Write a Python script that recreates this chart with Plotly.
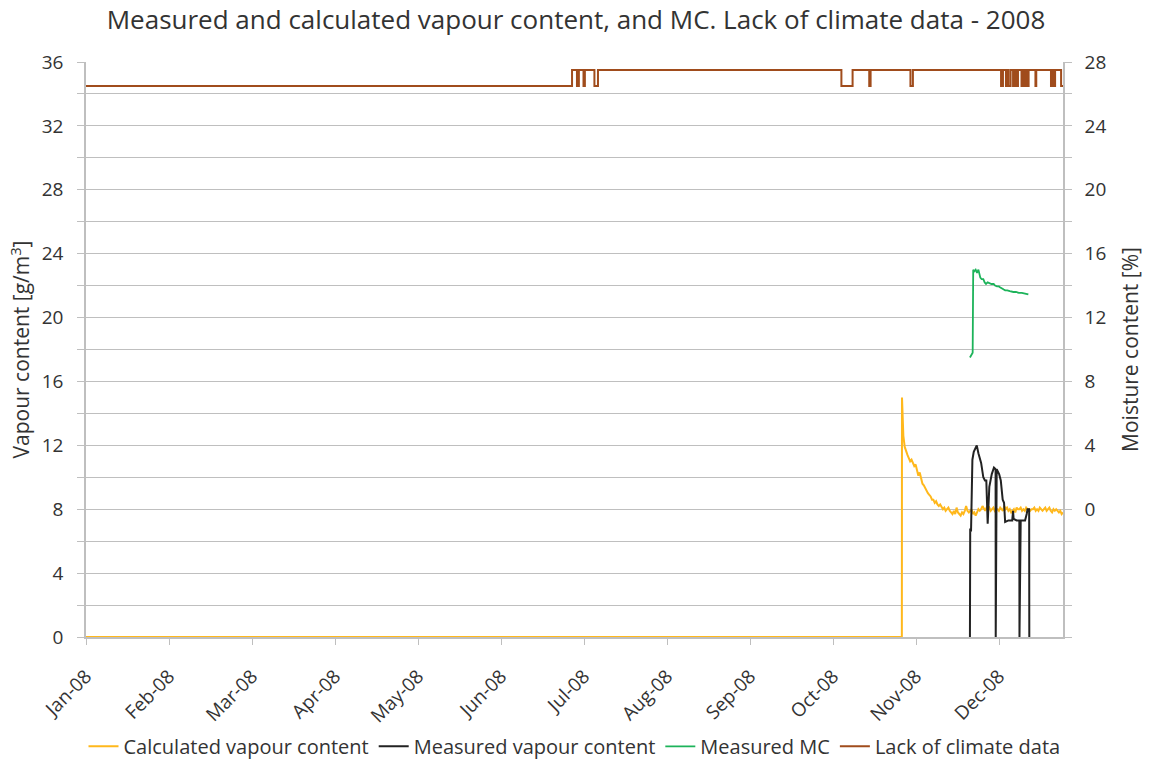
import numpy as np
import plotly.graph_objects as go

# ---- axis labels -------------------------------------------------------
month_labels = ["Jan-08", "Feb-08", "Mar-08", "Apr-08", "May-08", "Jun-08",
                "Jul-08", "Aug-08", "Sep-08", "Oct-08", "Nov-08", "Dec-08"]
month_pos = [i * 365 / 12 for i in range(12)]          # day-of-year of each label
x_end = 358.0

# ---- calculated vapour content [g/m3], half-day steps from day 299 --------
calc_start_day = 299.0
calc_step = 0.5
calc_values = [
    15.0, 12.6, 11.9, 11.6, 11.4, 11.2, 11.0, 11.1, 10.9, 10.7,
    10.8, 10.4, 10.1, 10.3, 9.9, 9.6, 9.5, 9.3, 9.1, 9.0,
    8.9, 8.8, 8.6, 8.6, 8.4, 8.5, 8.3, 8.2, 8.3, 8.1,
    8.0, 8.1, 7.9, 8.0, 8.1, 7.9, 7.8, 7.7, 7.9, 7.7,
    8.1, 7.8, 7.7, 7.6, 7.8, 7.7, 7.9, 8.2, 7.9, 7.8,
    7.9, 8.0, 7.7, 7.8, 7.6, 7.8, 8.0, 7.9, 8.0, 8.2,
    8.0, 7.9, 8.1, 8.0, 8.1, 7.9, 8.0, 8.1, 7.9, 8.0,
    8.0, 7.9, 8.1, 8.0, 7.9, 8.2, 8.0, 8.1, 7.9, 8.0,
    7.8, 7.9, 8.0, 7.8, 8.1, 8.0, 8.0, 8.1, 7.9, 8.0,
    7.9, 8.1, 8.0, 8.0, 7.9, 8.0, 8.0, 8.1, 7.9, 8.0,
    7.9, 8.1, 8.0, 7.9, 8.0, 8.1, 7.9, 8.0, 8.1, 7.9,
    7.8, 8.0, 7.9, 8.0, 7.9, 7.8, 7.9, 7.7, 7.8,
]
calc_days = [0.0, calc_start_day - 0.05] + [calc_start_day + i * calc_step for i in range(len(calc_values))]
calc_series = [0.0, 0.0] + calc_values

# ---- measured vapour content [g/m3] --------------------------------------
meas_days = [323.9, 324.0, 324.3, 324.8, 325.3, 326.0, 326.4, 327.0, 327.6, 328.0,
             328.8, 329.4, 329.9, 330.4, 331.0, 331.9, 332.7, 333.3, 333.35, 333.7,
             334.6, 335.2, 335.9, 336.4, 336.8, 338.0, 339.4, 339.7, 339.9, 341.0,
             342.0, 342.05, 342.5, 344.1, 344.7, 345.0, 345.6, 345.65]
meas_values = [0.0, 6.8, 6.6, 11.1, 11.6, 11.9, 12.0, 11.5, 11.1, 10.9,
               10.0, 9.8, 9.8, 7.1, 9.4, 10.2, 10.6, 10.5, 0.0, 10.5,
               10.2, 9.8, 8.6, 8.4, 7.2, 7.3, 7.3, 7.9, 7.4, 7.3,
               7.3, 0.0, 7.3, 7.3, 7.7, 8.0, 8.0, 0.0]

# ---- measured moisture content [%] ---------------------------------------
mc_days = [323.9, 324.2, 324.9, 325.1, 325.5, 326.0, 326.5, 327.0, 327.3, 327.7,
           328.2, 328.8, 329.3, 329.8, 330.4, 331.0, 331.8, 332.6, 333.1, 333.8,
           334.5, 334.9, 335.6, 336.3, 336.8, 337.6, 338.5, 339.3, 339.8, 340.8,
           341.8, 342.9, 343.9, 344.6, 345.3]
mc_values = [9.5, 9.6, 9.8, 15.0, 14.9, 15.0, 14.8, 15.0, 14.8, 14.5,
             14.4, 14.4, 14.2, 14.1, 14.2, 14.15, 14.1, 14.1, 14.0, 13.95,
             13.95, 13.9, 13.8, 13.75, 13.7, 13.7, 13.65, 13.6, 13.6, 13.6,
             13.55, 13.55, 13.5, 13.5, 13.45]

# ---- lack of climate data flag (step series, drawn at 34.5 / 35.5) --------
lack_days = [0.0, 178.1, 179.9, 180.6, 182.3, 182.8, 186.3, 187.6, 276.8, 280.9,
             287.0, 287.5, 302.1, 303.0, 335.3, 336.0, 337.1, 337.5, 338.0, 338.8,
             339.7, 340.1, 340.4, 340.8, 341.2, 341.5, 342.8, 343.3, 343.7, 344.3,
             344.8, 345.4, 347.9, 348.2, 353.6, 354.0, 354.7, 355.1, 357.3, 358.0]
lack_values = [34.5, 35.5, 34.5, 35.5, 34.5, 35.5, 34.5, 35.5, 34.5, 35.5,
               34.5, 35.5, 34.5, 35.5, 34.5, 35.5, 34.5, 35.5, 34.5, 35.5,
               34.5, 35.5, 34.5, 35.5, 34.5, 35.5, 34.5, 35.5, 34.5, 35.5,
               34.5, 35.5, 34.5, 35.5, 34.5, 35.5, 34.5, 35.5, 34.5, 34.5]

FONT = "Open Sans"
TEXT = "#333333"
GRID = "#BFBFBF"

fig = go.Figure()
fig.add_trace(go.Scatter(x=calc_days, y=calc_series, mode="lines",
                         name="Calculated vapour content",
                         line=dict(color="#FFB81C", width=2)))
fig.add_trace(go.Scatter(x=meas_days, y=meas_values, mode="lines",
                         name="Measured vapour content",
                         line=dict(color="#222222", width=2)))
fig.add_trace(go.Scatter(x=mc_days, y=mc_values, mode="lines",
                         name="Measured MC", yaxis="y2",
                         line=dict(color="#1DB35A", width=1.8)))
fig.add_trace(go.Scatter(x=lack_days, y=lack_values, mode="lines",
                         name="Lack of climate data", line_shape="hv",
                         line=dict(color="#A04C1C", width=2)))

fig.update_layout(
    width=1152, height=760,
    margin=dict(l=86, r=89, t=62, b=123, autoexpand=False),
    paper_bgcolor="white", plot_bgcolor="white",
    font=dict(family=FONT, size=18, color=TEXT),
    title=dict(text="Measured and calculated vapour content, and MC. Lack of climate data - 2008",
               x=0.5, xanchor="center", y=0.974, yanchor="middle",
               font=dict(family=FONT, size=26, color=TEXT)),
    showlegend=True,
    legend=dict(orientation="h", x=0.5, xanchor="center",
                yref="container", y=0.018, yanchor="middle",
                bgcolor="rgba(0,0,0,0)",
                font=dict(family=FONT, size=20, color=TEXT),
                itemwidth=30, tracegroupgap=0),
    xaxis=dict(range=[0, x_end], tickmode="array", tickvals=month_pos, ticktext=month_labels,
               tickangle=-45, showgrid=False, zeroline=False, automargin=False,
               showline=True, linecolor=GRID, linewidth=1.5,
               ticks="outside", ticklen=6, tickcolor=GRID, ticklabelstandoff=13,
               tickfont=dict(family=FONT, size=19, color=TEXT)),
    yaxis=dict(range=[0, 36], tickmode="linear", tick0=0, dtick=4,
               showgrid=True, gridcolor=GRID, gridwidth=1.2, zeroline=False, automargin=False,
               showline=True, linecolor=GRID, linewidth=1.5,
               ticks="outside", ticklen=7, tickcolor=GRID, ticklabelstandoff=10,
               minor=dict(tickmode="linear", tick0=0, dtick=2, showgrid=True,
                          gridcolor=GRID, gridwidth=1.2,
                          ticks="outside", ticklen=7, tickcolor=GRID),
               tickfont=dict(family=FONT, size=19, color=TEXT),
               title=dict(text="Vapour content [g/m<sup>3</sup>]", standoff=6,
                          font=dict(family=FONT, size=21, color=TEXT))),
    yaxis2=dict(range=[-8, 28], overlaying="y", side="right",
                tickmode="array", tickvals=[0, 4, 8, 12, 16, 20, 24, 28],
                showgrid=False, zeroline=False, automargin=False,
                showline=True, linecolor=GRID, linewidth=1.5,
                ticks="outside", ticklen=7, tickcolor=GRID, ticklabelstandoff=9,
                minor=dict(tickmode="linear", tick0=-8, dtick=2,
                           ticks="outside", ticklen=7, tickcolor=GRID),
                tickfont=dict(family=FONT, size=19, color=TEXT),
                title=dict(text="Moisture content [%]", standoff=18,
                           font=dict(family=FONT, size=21, color=TEXT))),
)

fig.write_html("out.html")
